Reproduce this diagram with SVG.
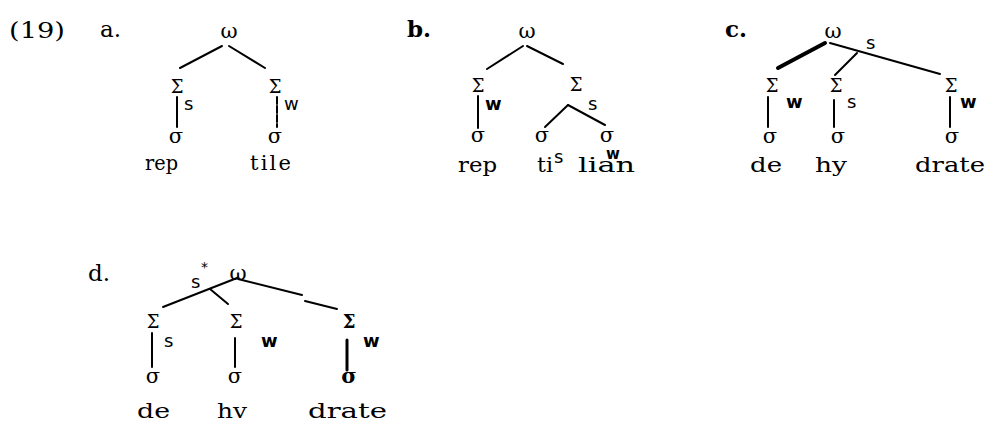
<svg xmlns="http://www.w3.org/2000/svg" width="989" height="423" viewBox="0 0 989 423">
<style>
text{font-family:"DejaVu Serif","Liberation Serif",serif;fill:#000}
.g{font-size:21px;text-anchor:middle}
.S{font-size:18px;text-anchor:middle}
.lab{font-size:18px;font-family:"DejaVu Sans","Liberation Sans",sans-serif}
.b{font-weight:bold}
.wd{font-size:21px}
.num{font-size:23px}
.ln{stroke:#000;stroke-width:2;fill:none;stroke-linecap:round}
</style>
<rect width="989" height="423" fill="#fff"/>
<text class="num" x="9" y="38" textLength="56" lengthAdjust="spacingAndGlyphs">(19)</text>
<!-- a -->
<g id="a">
<text class="num" x="100" y="37">a.</text>
<g id="a-w"><text class="g" x="229" y="38">ω</text></g>
<g id="a-S1"><text class="S" x="177" y="93">Σ</text><text class="lab" x="184" y="110">s</text></g>
<g id="a-S2"><text class="S" x="275" y="93">Σ</text><text class="lab" x="284" y="110">w</text></g>
<g id="a-s1"><text class="g" x="176" y="143">σ</text></g>
<g id="a-s2"><text class="g" x="275" y="143">σ</text></g>
<g id="a-words"><text class="wd" x="145" y="170" textLength="33" lengthAdjust="spacingAndGlyphs">rep</text><text class="wd" x="250" y="170" textLength="41" lengthAdjust="spacing">tile</text></g>
<g id="a-conn" class="ln">
<path d="M222,46 L180,68"/><path d="M229,46 L265,68"/>
<path d="M177,97 V127"/><path d="M277,97 V127" stroke-dasharray="7 2"/>
</g>
</g>
<!-- b -->
<g id="b">
<text class="num b" x="407" y="37">b.</text>
<g id="b-w"><text class="g" x="527" y="38">ω</text></g>
<g id="b-S1"><text class="S" x="478" y="92">Σ</text><text class="lab b" x="485" y="110">w</text></g>
<g id="b-S2"><text class="S" x="576" y="91">Σ</text><text class="lab" x="588" y="110">s</text></g>
<g id="b-s1"><text class="g" x="478" y="142">σ</text></g>
<g id="b-s2"><text class="g" x="542" y="142">σ</text></g>
<g id="b-s3"><text class="g" x="607" y="142">σ</text></g>
<g id="b-words"><text class="wd" x="458" y="172" textLength="39" lengthAdjust="spacingAndGlyphs">rep</text><text class="wd" x="537" y="172" textLength="16" lengthAdjust="spacingAndGlyphs">ti</text><text class="lab" x="554" y="163">s</text><text class="lab b" x="606" y="159" style="font-size:15px">w</text><text class="wd" x="578" y="172" textLength="57" lengthAdjust="spacingAndGlyphs">lian</text></g>
<g id="b-conn" class="ln">
<path d="M523,46 L487,69"/><path d="M527,46 L563,64"/>
<path d="M478,96 V128"/>
<path d="M568,105 L545,127"/><path d="M568,105 L605,125"/>
</g>
</g>
<!-- c -->
<g id="c">
<text class="num b" x="725" y="37">c.</text>
<g id="c-w"><text class="g" x="833" y="38">ω</text><text class="lab" x="866" y="49">s</text></g>
<g id="c-S1"><text class="S" x="772" y="92">Σ</text><text class="lab b" x="786" y="108">w</text></g>
<g id="c-S2"><text class="S" x="836" y="92">Σ</text><text class="lab" x="847" y="108">s</text></g>
<g id="c-S3"><text class="S" x="951" y="92">Σ</text><text class="lab b" x="960" y="108">w</text></g>
<g id="c-s1"><text class="g" x="770" y="143">σ</text></g>
<g id="c-s2"><text class="g" x="838" y="143">σ</text></g>
<g id="c-s3"><text class="g" x="952" y="143">σ</text></g>
<g id="c-words"><text class="wd" x="750" y="172" textLength="32" lengthAdjust="spacingAndGlyphs">de</text><text class="wd" x="815" y="172" textLength="32" lengthAdjust="spacingAndGlyphs">hy</text><text class="wd" x="915" y="172" textLength="70" lengthAdjust="spacingAndGlyphs">drate</text></g>
<g id="c-conn" class="ln">
<path d="M825,43 L778,68" stroke-width="4"/><path d="M830,43 L940,74"/>
<path d="M857,53 L835,75"/>
<path d="M768,97 V127"/><path d="M834,100 V127"/><path d="M950,97 V127"/>
</g>
</g>
<!-- d -->
<g id="d">
<text class="num" x="88" y="281">d.</text>
<g id="d-w"><text class="g" x="238" y="280">ω</text><text class="lab" x="191" y="288">s</text><text class="lab" x="201" y="272" style="font-size:14px">*</text></g>
<g id="d-S1"><text class="S" x="153" y="328">Σ</text><text class="lab" x="164" y="347">s</text></g>
<g id="d-S2"><text class="S" x="236" y="328">Σ</text><text class="lab b" x="261" y="347">w</text></g>
<g id="d-S3"><text class="S b" x="349" y="328">Σ</text><text class="lab b" x="363" y="347">w</text></g>
<g id="d-s1"><text class="g" x="153" y="383">σ</text></g>
<g id="d-s2"><text class="g" x="235" y="383">σ</text></g>
<g id="d-s3"><text class="g b" x="349" y="383">σ</text></g>
<g id="d-words"><text class="wd" x="137" y="418" textLength="33" lengthAdjust="spacingAndGlyphs">de</text><text class="wd" x="217" y="418" textLength="30" lengthAdjust="spacingAndGlyphs">hv</text><text class="wd" x="308" y="418" textLength="79" lengthAdjust="spacingAndGlyphs">drate</text></g>
<g id="d-conn" class="ln">
<path d="M237,278 L163,307"/><path d="M238,279 L302,295"/><path d="M305,301 L337,309"/>
<path d="M210,289 L228,304"/>
<path d="M152,333 V367"/><path d="M235,338 V367"/><path d="M347,340 V370" stroke-width="3"/>
</g>
</g>
</svg>
